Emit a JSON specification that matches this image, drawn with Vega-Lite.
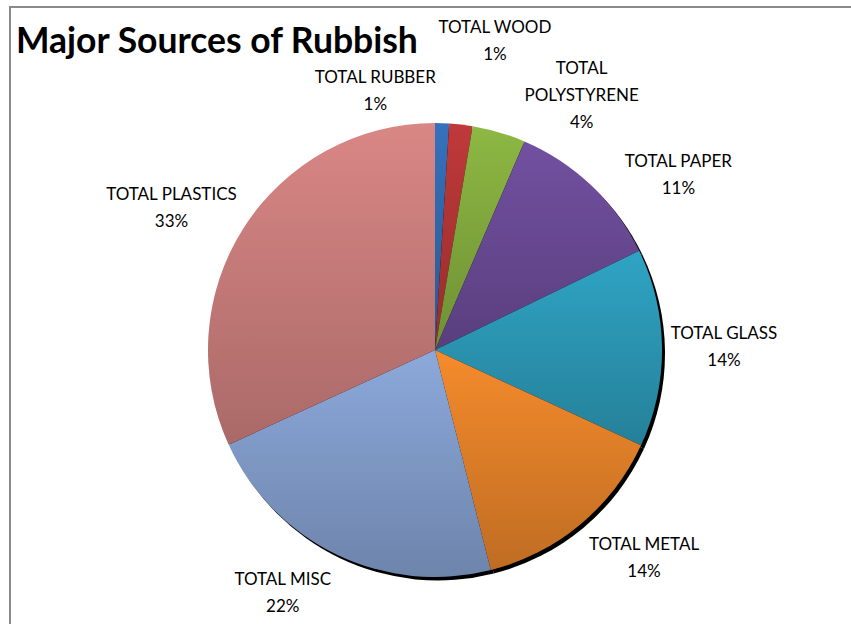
{
  "$schema": "https://vega.github.io/schema/vega-lite/v6.json",
  "width": 850,
  "height": 686,
  "autosize": {"type": "none"},
  "padding": {"left": 10, "top": 7, "right": 0, "bottom": 0},
  "background": "white",
  "config": {"view": {"stroke": null}},
  "title": {
    "text": "Major Sources of Rubbish",
    "anchor": "start",
    "frame": "group",
    "orient": "top",
    "offset": 0,
    "dx": 6,
    "dy": 82,
    "baseline": "alphabetic",
    "font": "Lato",
    "fontSize": 35.5,
    "fontWeight": "bold",
    "color": "#000000"
  },
  "data": {
    "values": [
      {"category": "TOTAL RUBBER", "value": 1.0, "label": "TOTAL RUBBER\n1%", "order": 1},
      {"category": "TOTAL WOOD", "value": 1.65, "label": "TOTAL WOOD\n1%", "order": 2},
      {"category": "TOTAL POLYSTYRENE", "value": 3.8, "label": "TOTAL\nPOLYSTYRENE\n4%", "order": 3},
      {"category": "TOTAL PAPER", "value": 11.35, "label": "TOTAL PAPER\n11%", "order": 4},
      {"category": "TOTAL GLASS", "value": 14.1, "label": "TOTAL GLASS\n14%", "order": 5},
      {"category": "TOTAL METAL", "value": 14.15, "label": "TOTAL METAL\n14%", "order": 6},
      {"category": "TOTAL MISC", "value": 22.1, "label": "TOTAL MISC\n22%", "order": 7},
      {"category": "TOTAL PLASTICS", "value": 31.85, "label": "TOTAL PLASTICS\n33%", "order": 8}
    ]
  },
  "transform": [
    {"stack": "value", "groupby": [], "sort": [{"field": "order", "order": "ascending"}], "as": ["t0", "t1"]},
    {"calculate": "(datum.t0 + datum.t1) / 2", "as": "mid"}
  ],
  "layer": [
    {
      "mark": {"type": "rect", "fill": null, "stroke": "#8a8a8a", "strokeWidth": 1.5},
      "encoding": {}
    },
    {
      "mark": {"type": "arc", "radius": 227, "fill": "#000000", "xOffset": 3, "yOffset": 3.5},
      "encoding": {
        "theta": {"field": "t0", "type": "quantitative", "scale": {"domain": [0, 100]}},
        "theta2": {"field": "t1"}
      }
    },
    {
      "mark": {"type": "arc", "radius": 227, "strokeWidth": 0},
      "encoding": {
        "theta": {"field": "t0", "type": "quantitative", "scale": {"domain": [0, 100]}},
        "theta2": {"field": "t1"},
        "color": {
          "field": "category",
          "type": "nominal",
          "legend": null,
          "scale": {
            "domain": ["TOTAL RUBBER", "TOTAL WOOD", "TOTAL POLYSTYRENE", "TOTAL PAPER", "TOTAL GLASS", "TOTAL METAL", "TOTAL MISC", "TOTAL PLASTICS"],
            "range": ["#3571BB", "#C0393A", "#8DB843", "#7250A1", "#2FA4C4", "#F58B2C", "#8CA9DB", "#D98785"]
          }
        }
      }
    },
    {
      "mark": {
        "type": "arc",
        "radius": 227,
        "strokeWidth": 0,
        "fill": {
          "gradient": "linear",
          "x1": 0, "y1": 0, "x2": 0, "y2": 1,
          "stops": [
            {"offset": 0, "color": "rgba(0,0,0,0)"},
            {"offset": 1, "color": "rgba(0,0,0,0.22)"}
          ]
        }
      },
      "encoding": {
        "theta": {"field": "t0", "type": "quantitative", "scale": {"domain": [0, 100]}},
        "theta2": {"field": "t1"}
      }
    },
    {
      "transform": [{"filter": "datum.category === 'TOTAL RUBBER'"}],
      "mark": {"type": "text", "radius": 265, "dx": -68, "dy": -7, "align": "center", "baseline": "middle", "lineBreak": "\n", "lineHeight": 27, "font": "Lato", "fontSize": 17, "color": "#000000"},
      "encoding": {"theta": {"field": "mid", "type": "quantitative", "stack": null, "scale": {"domain": [0, 100]}}, "text": {"field": "label"}}
    },
    {
      "transform": [{"filter": "datum.category === 'TOTAL WOOD'"}],
      "mark": {"type": "text", "radius": 314, "dx": 24, "dy": -10, "align": "center", "baseline": "middle", "lineBreak": "\n", "lineHeight": 27, "font": "Lato", "fontSize": 17, "color": "#000000"},
      "encoding": {"theta": {"field": "mid", "type": "quantitative", "stack": null, "scale": {"domain": [0, 100]}}, "text": {"field": "label"}}
    },
    {
      "transform": [{"filter": "datum.category === 'TOTAL POLYSTYRENE'"}],
      "mark": {"type": "text", "radius": 293, "dx": 64, "dy": 0, "align": "center", "baseline": "middle", "lineBreak": "\n", "lineHeight": 27, "font": "Lato", "fontSize": 17, "color": "#000000"},
      "encoding": {"theta": {"field": "mid", "type": "quantitative", "stack": null, "scale": {"domain": [0, 100]}}, "text": {"field": "label"}}
    },
    {
      "transform": [{"filter": "datum.category === 'TOTAL PAPER'"}],
      "mark": {"type": "text", "radius": 299, "dx": 37, "dy": 28, "align": "center", "baseline": "middle", "lineBreak": "\n", "lineHeight": 27, "font": "Lato", "fontSize": 17, "color": "#000000"},
      "encoding": {"theta": {"field": "mid", "type": "quantitative", "stack": null, "scale": {"domain": [0, 100]}}, "text": {"field": "label"}}
    },
    {
      "transform": [{"filter": "datum.category === 'TOTAL GLASS'"}],
      "mark": {"type": "text", "radius": 289, "dx": 0, "dy": -13, "align": "center", "baseline": "middle", "lineBreak": "\n", "lineHeight": 27, "font": "Lato", "fontSize": 17, "color": "#000000"},
      "encoding": {"theta": {"field": "mid", "type": "quantitative", "stack": null, "scale": {"domain": [0, 100]}}, "text": {"field": "label"}}
    },
    {
      "transform": [{"filter": "datum.category === 'TOTAL METAL'"}],
      "mark": {"type": "text", "radius": 296, "dx": 20, "dy": -33, "align": "center", "baseline": "middle", "lineBreak": "\n", "lineHeight": 27, "font": "Lato", "fontSize": 17, "color": "#000000"},
      "encoding": {"theta": {"field": "mid", "type": "quantitative", "stack": null, "scale": {"domain": [0, 100]}}, "text": {"field": "label"}}
    },
    {
      "transform": [{"filter": "datum.category === 'TOTAL MISC'"}],
      "mark": {"type": "text", "radius": 288, "dx": -28, "dy": -30, "align": "center", "baseline": "middle", "lineBreak": "\n", "lineHeight": 27, "font": "Lato", "fontSize": 17, "color": "#000000"},
      "encoding": {"theta": {"field": "mid", "type": "quantitative", "stack": null, "scale": {"domain": [0, 100]}}, "text": {"field": "label"}}
    },
    {
      "transform": [{"filter": "datum.category === 'TOTAL PLASTICS'"}],
      "mark": {"type": "text", "radius": 300, "dx": -11, "dy": 7, "align": "center", "baseline": "middle", "lineBreak": "\n", "lineHeight": 27, "font": "Lato", "fontSize": 17, "color": "#000000"},
      "encoding": {"theta": {"field": "mid", "type": "quantitative", "stack": null, "scale": {"domain": [0, 100]}}, "text": {"field": "label"}}
    }
  ]
}
